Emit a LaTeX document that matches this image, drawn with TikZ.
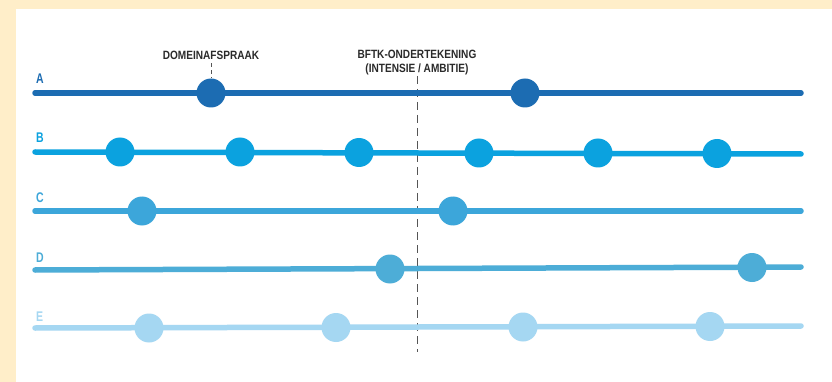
\documentclass[tikz,border=0pt]{standalone}
\usepackage{fontspec}
\newfontfamily\labfont[FakeStretch=0.84]{Liberation Sans}
\newfontfamily\rowfont[FakeStretch=0.75]{Liberation Sans}
\definecolor{cream}{HTML}{FFEEC9}
\definecolor{cA}{HTML}{1C6CB2}
\definecolor{cB}{HTML}{0BA2DF}
\definecolor{cC}{HTML}{3CA6DA}
\definecolor{cD}{HTML}{4DADD7}
\definecolor{cE}{HTML}{A5D7F2}
\definecolor{dashgray}{HTML}{555555}
\definecolor{txt}{HTML}{2A2A2A}
\tikzset{
  track/.style={line width=5.5pt, line cap=round},
  dot/.style={circle, fill=#1, draw=none, minimum size=29pt, inner sep=0pt},
  rowlab/.style={font=\rowfont\bfseries\fontsize{14}{14}\selectfont, text=#1, anchor=base west, inner sep=0pt},
  toplab/.style={font=\labfont\bfseries\fontsize{12}{14}\selectfont, text=txt, align=center, inner sep=0pt},
  guide/.style={dashgray, line width=1pt, dash pattern=on 8pt off 5pt}
}
\begin{document}
\begin{tikzpicture}[x=1pt,y=-1pt]
\useasboundingbox (0,0) rectangle (832,382);
\fill[cream] (0,0) rectangle (832,382);
\fill[white] (16,9) rectangle (832,382);

% labels
\node[rowlab=cA] (lA) at (36,84) {A};
\node[rowlab=cB] (lB) at (36,143) {B};
\node[rowlab=cC] (lC) at (36,203) {C};
\node[rowlab=cD] (lD) at (36,262) {D};
\node[rowlab=cE] (lE) at (36,321) {E};

\node[toplab] (dom) at (211,55) {DOMEINAFSPRAAK};
\node[toplab] (bftk) at (417,63) {BFTK-ONDERTEKENING\\(INTENSIE / AMBITIE)};

% guides
\coordinate (bftkEnd) at (417,352);
\draw[guide] (417,76) -- (bftkEnd);

% track ends
\coordinate (aS) at (35,93);  \coordinate (aE) at (801,93);
\coordinate (bS) at (35,152); \coordinate (bE) at (801,154);
\coordinate (cS) at (35,211); \coordinate (cE) at (801,211);
\coordinate (dS) at (35,270); \coordinate (dE) at (801,267);
\coordinate (eS) at (35,328); \coordinate (eE) at (801,326);

\draw[track, cA] (aS) -- (aE);
\draw[track, cB] (bS) -- (bE);
\draw[track, cC] (cS) -- (cE);
\draw[track, cD] (dS) -- (dE);
\draw[track, cE] (eS) -- (eE);

% dots
\node[dot=cA] (a1) at (211,93) {};
\node[dot=cA] (a2) at (525,93) {};
\draw[guide, dash pattern=on 4pt off 3pt] (dom.south) ++(0,4) -- (a1.north);

\node[dot=cB] (b1) at (120,152) {};
\node[dot=cB] (b2) at (240,152) {};
\node[dot=cB] (b3) at (359,152.5) {};
\node[dot=cB] (b4) at (479,153) {};
\node[dot=cB] (b5) at (598,153) {};
\node[dot=cB] (b6) at (717,153.5) {};

\node[dot=cC] (c1) at (142,211) {};
\node[dot=cC] (c2) at (453,211) {};

\node[dot=cD] (d1) at (390,269) {};
\node[dot=cD] (d2) at (752,267.5) {};

\node[dot=cE] (e1) at (149,328) {};
\node[dot=cE] (e2) at (336,327.5) {};
\node[dot=cE] (e3) at (523,327) {};
\node[dot=cE] (e4) at (710,326.5) {};
\end{tikzpicture}
\end{document}
